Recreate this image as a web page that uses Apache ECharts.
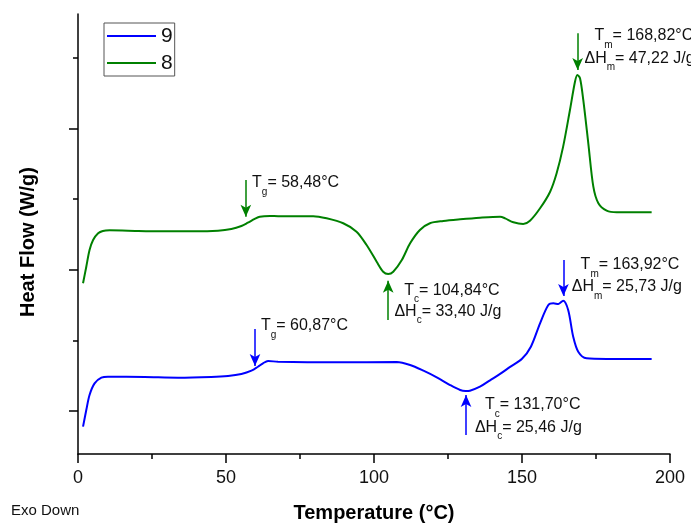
<!DOCTYPE html>
<html>
<head>
<meta charset="utf-8">
<script src="https://cdn.jsdelivr.net/npm/echarts@6/dist/echarts.min.js"></script>
<style>
  html, body { margin: 0; padding: 0; background: #fff; }
  #chart { width: 691px; height: 524px; }
</style>
</head>
<body>
<div id="chart"></div>
<script>
// sample 9 (blue)
const temp9 = [1.7, 2.8, 3.9, 5.6, 7.9, 10.1, 22.5, 33.8, 45.0, 50.7, 55.2, 58.6, 60.8, 62.5, 64.2, 67.6,
  87.4, 107.7, 112.2, 116.7, 121.2, 125.7, 129.1, 130.9, 132.4, 135.8, 139.2, 142.6, 146.0, 150.0,
  153.0, 156.1, 158.9, 160.6, 162.3, 163.9, 165.6, 167.3, 169.0, 171.8, 178.6, 193.8]
const flow9 = [0.778, 1.014, 1.227, 1.392, 1.472, 1.486, 1.482, 1.472, 1.482, 1.496, 1.524, 1.571, 1.627, 1.676, 1.708, 1.698,
  1.690, 1.694, 1.652, 1.571, 1.477, 1.368, 1.297, 1.283, 1.288, 1.344, 1.435, 1.525, 1.625, 1.740,
  1.911, 2.242, 2.501, 2.525, 2.516, 2.562, 2.431, 2.052, 1.840, 1.746, 1.737, 1.737]

// sample 8 (green)
const temp8 = [1.7, 2.8, 3.9, 5.1, 6.8, 8.4, 10.7, 16.9, 28.2, 39.4, 47.3, 51.8, 55.2, 57.4, 59.7, 61.4, 64.9, 67.6,
  79.5, 84.0, 89.6, 94.1, 97.5, 100.9, 103.1, 104.8, 106.5, 109.4, 112.2, 115.5, 118.9, 123.4, 129.1, 135.8,
  142.6, 144.3, 147.1, 150.4, 152.7, 156.1, 159.5, 161.7, 163.9, 166.2, 167.9, 168.7, 169.6, 170.7, 172.4,
  174.1, 175.8, 178.6, 182.0, 193.8]
const flow8 = [2.809, 3.044, 3.280, 3.422, 3.517, 3.550, 3.559, 3.554, 3.545, 3.545, 3.554, 3.578, 3.620, 3.667, 3.720, 3.752, 3.762, 3.760,
  3.760, 3.729, 3.659, 3.540, 3.351, 3.115, 2.973, 2.941, 2.973, 3.139, 3.375, 3.564, 3.659, 3.691, 3.715, 3.738,
  3.752, 3.729, 3.673, 3.649, 3.695, 3.871, 4.106, 4.367, 4.744, 5.263, 5.664, 5.759, 5.712, 5.405, 4.792,
  4.177, 3.942, 3.837, 3.814, 3.814]

const xTicks = [0, 50, 100, 150, 200]
const yMajorTicks = [1, 3, 5]
const yMinorTicks = [2, 4, 6]

// arrows: [temp, from, to]
const arrows9 = [[59.8, 2.161, 1.637], [164.0, 3.139, 2.629], [131.1, 0.660, 1.227]]
const arrows8 = [[56.7, 4.272, 3.752], [168.8, 6.350, 5.830], [104.8, 2.289, 2.846]]

// notes: [temp, flow, main, sub, rest]
const notes9 = [
  [61.8, 2.204, 'T', 'g', '= 60,87°C'],
  [169.8, 3.068, 'T', 'm', '= 163,92°C'],
  [166.8, 2.756, 'ΔH', 'm', '= 25,73 J/g'],
  [137.5, 1.085, 'T', 'c', '= 131,70°C'],
  [134.1, 0.766, 'ΔH', 'c', '= 25,46 J/g']
]
const notes8 = [
  [58.8, 4.229, 'T', 'g', '= 58,48°C'],
  [174.5, 6.312, 'T', 'm', '= 168,82°C'],
  [171.1, 5.993, 'ΔH', 'm', '= 47,22 J/g'],
  [110.2, 2.707, 'T', 'c', '= 104,84°C'],
  [106.9, 2.409, 'ΔH', 'c', '= 33,40 J/g']
]

const font = 'Liberation Sans, Arial, sans-serif'

const zip = (xs, ys) => xs.map((x, i) => [x, ys[i]])

const makeArrows = (list, color) => ({
  silent: true,
  symbol: ['none', 'arrow'],
  symbolSize: [8, 12],
  label: { show: false },
  lineStyle: { color: color, width: 1.5, type: 'solid' },
  data: list.map(a => [{ coord: [a[0], a[1]] }, { coord: [a[0], a[2]] }])
})

const makeNotes = (list) => ({
  silent: true,
  symbol: 'circle',
  symbolSize: 0,
  data: list.map(n => ({
    coord: [n[0], n[1]],
    label: {
      show: true,
      position: [0, 0],
      align: 'left',
      verticalAlign: 'middle',
      formatter: '{t|' + n[2] + '}{s|' + n[3] + '}{t|' + n[4] + '}',
      rich: {
        t: { fontFamily: font, fontSize: 16, color: '#111', lineHeight: 28 },
        s: { fontFamily: font, fontSize: 10, color: '#111', lineHeight: 10, verticalAlign: 'bottom' }
      }
    }
  }))
})

const chart = echarts.init(document.getElementById('chart'))
chart.setOption({
  animation: false,
  backgroundColor: '#fff',
  grid: { left: 78, right: 21, top: 14, bottom: 70, containLabel: false, outerBoundsMode: 'none' },
  legend: {
    data: ['9', '8'],
    orient: 'vertical',
    left: 104,
    top: 23,
    itemWidth: 49,
    itemHeight: 14,
    itemGap: 5,
    padding: [2, 2, 2, 2],
    borderColor: '#555',
    borderWidth: 1,
    borderRadius: 0,
    itemStyle: { opacity: 0 },
    textStyle: { fontFamily: font, fontSize: 21, color: '#111', lineHeight: 22 }
  },
  xAxis: {
    type: 'value',
    min: 0,
    max: 200,
    interval: 50,
    name: 'Temperature (°C)',
    nameLocation: 'middle',
    nameGap: 49,
    nameTextStyle: { fontFamily: font, fontSize: 20, fontWeight: 'bold', color: '#000' },
    axisLine: { show: true, lineStyle: { color: '#000', width: 1.5 } },
    axisTick: { show: true, length: 9, customValues: xTicks, lineStyle: { color: '#000', width: 1.5 } },
    minorTick: { show: true, splitNumber: 2, length: 5, lineStyle: { color: '#000', width: 1.5 } },
    axisLabel: { fontFamily: font, fontSize: 18, color: '#111', margin: 15, customValues: xTicks },
    splitLine: { show: false },
    minorSplitLine: { show: false }
  },
  yAxis: [
    {
      type: 'value',
      min: 0.391,
      max: 6.623,
      name: 'Heat Flow (W/g)',
      nameLocation: 'middle',
      nameGap: 40,
      nameTextStyle: { fontFamily: font, fontSize: 20, fontWeight: 'bold', color: '#000', padding: [0, 16, 0, 0] },
      axisLine: { show: true, lineStyle: { color: '#000', width: 1.5 } },
      axisTick: { show: true, length: 9, customValues: yMajorTicks, lineStyle: { color: '#000', width: 1.5 } },
      axisLabel: { show: false },
      splitLine: { show: false }
    },
    {
      type: 'value',
      min: 0.391,
      max: 6.623,
      position: 'left',
      offset: 0,
      axisLine: { show: false },
      axisTick: { show: true, length: 5, customValues: yMinorTicks, lineStyle: { color: '#000', width: 1.5 } },
      axisLabel: { show: false },
      splitLine: { show: false }
    }
  ],
  graphic: [
    { type: 'text', left: 11, top: 503, style: { text: 'Exo Down', fontFamily: font, fontSize: 15, fill: '#111' } }
  ],
  series: [
    {
      name: '9',
      type: 'line',
      data: zip(temp9, flow9),
      symbol: 'none',
      smooth: 0.3,
      lineStyle: { color: '#0000ff', width: 2 },
      itemStyle: { color: '#0000ff' },
      markLine: makeArrows(arrows9, '#0000ff'),
      markPoint: makeNotes(notes9)
    },
    {
      name: '8',
      type: 'line',
      data: zip(temp8, flow8),
      symbol: 'none',
      smooth: 0.3,
      lineStyle: { color: '#008000', width: 2 },
      itemStyle: { color: '#008000' },
      markLine: makeArrows(arrows8, '#008000'),
      markPoint: makeNotes(notes8)
    }
  ]
})
</script>
</body>
</html>
